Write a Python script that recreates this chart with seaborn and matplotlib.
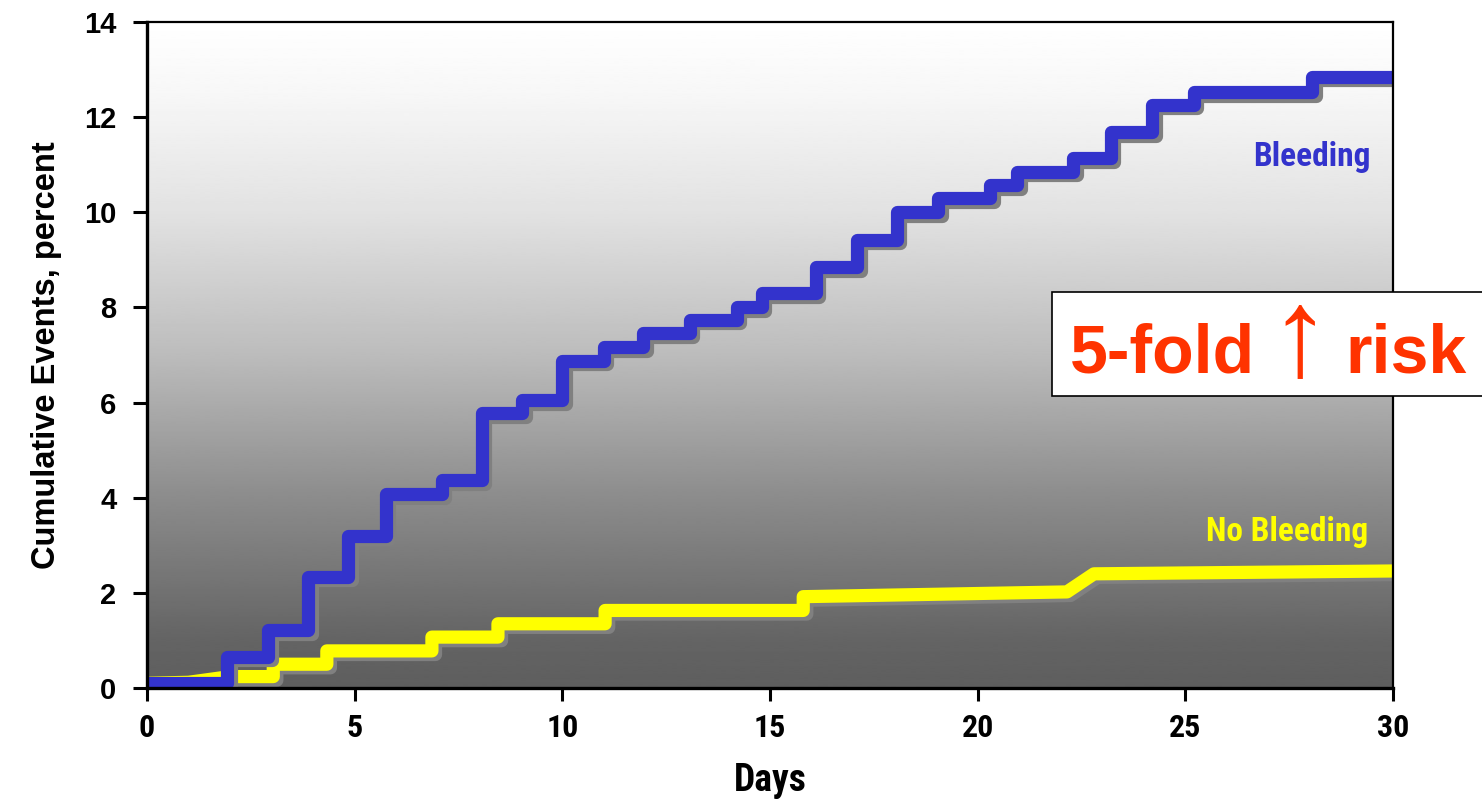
import numpy as np
import pandas as pd
import matplotlib
matplotlib.use("Agg")
import matplotlib.pyplot as plt
import matplotlib.patheffects as pe
from matplotlib.patches import Rectangle
from matplotlib import font_manager as fm
import seaborn as sns

# ---------------- data ----------------
bleed_days = [0, 1.93, 2.92, 3.88, 4.84, 5.75, 7.1, 8.06, 9.04, 10.0, 11.0, 11.95,
              13.07, 14.2, 14.8, 16.1, 17.1, 18.05, 19.05, 20.3, 20.95, 22.3, 23.2,
              24.2, 25.2, 28.05, 30]
bleed_pct = [0.1, 0.66, 1.22, 2.34, 3.2, 4.07, 4.37, 5.78, 6.05, 6.88, 7.17, 7.46,
             7.74, 8.01, 8.3, 8.85, 9.42, 10.0, 10.3, 10.57, 10.85, 11.14, 11.69,
             12.26, 12.53, 12.85, 12.85]

# No-bleeding curve vertices (steps with slight slopes)
nobleed_days = [0, 1.0, 2.0, 3.04, 3.04, 4.33, 4.33, 6.86, 6.86, 8.45, 8.45, 11.03,
                11.03, 15.8, 15.8, 22.15, 22.8, 30]
nobleed_pct = [0.1, 0.12, 0.24, 0.24, 0.5, 0.5, 0.78, 0.78, 1.07, 1.07, 1.35, 1.35,
               1.63, 1.63, 1.92, 2.02, 2.40, 2.46]

x_ticks = [0, 5, 10, 15, 20, 25, 30]
y_ticks = [0, 2, 4, 6, 8, 10, 12, 14]

# background gradient stops (value -> gray level)
grad_v = [0, 1, 4, 7, 10, 12.5, 14]
grad_g = [94, 100, 140, 188, 226, 247, 255]

# ---------------- fonts ----------------
def pick_narrow_bold():
    cands = []
    for f in fm.fontManager.ttflist:
        name = f.name.lower()
        fname = f.fname.lower()
        narrow = ("narrow" in name or "condensed" in name or "narrow" in fname
                  or "condensed" in fname or f.stretch in ("condensed", "semi-condensed",
                                                            "extra-condensed"))
        if not narrow:
            continue
        w = f.weight if isinstance(f.weight, int) else 400
        if w < 600 or "italic" in fname or "oblique" in fname or f.style != "normal":
            continue
        if "mono" in name or "serif" in name and "sans" not in name:
            continue
        score = 0
        if "liberation" in name or "arial" in name:
            score -= 10
        elif "roboto" in name:
            score -= 8
        elif "noto sans" in name:
            score -= 6
        elif "open sans" in name:
            score -= 5
        elif "dejavu" in name:
            score -= 3
        if "semicondensed" in fname or "semi" in f.stretch:
            score += 1
        cands.append((score, f.fname))
    if cands:
        cands.sort()
        return fm.FontProperties(fname=cands[0][1])
    return fm.FontProperties(family="Liberation Sans", weight="bold")

narrow_fp = pick_narrow_bold()

def nfp(size):
    p = narrow_fp.copy()
    p.set_size(size)
    return p

# ---------------- figure ----------------
sns.set_style("ticks")
plt.rcParams["font.family"] = ["Liberation Sans", "DejaVu Sans"]
for k in ["text.color", "axes.labelcolor", "xtick.color", "ytick.color",
          "axes.edgecolor"]:
    plt.rcParams[k] = "black"

fig = plt.figure(figsize=(14.82, 8.02), dpi=100)
ax = fig.add_axes([147 / 1482, 1 - 688 / 802, 1246 / 1482, 666 / 802])

yy = np.linspace(0, 14, 400)
gray = np.interp(yy, grad_v, grad_g)
ax.imshow(gray[:, None], extent=[0, 30, 0, 14], origin="lower", aspect="auto",
          cmap="gray", vmin=0, vmax=255, zorder=0, interpolation="bilinear")

shadow = [pe.SimpleLineShadow(offset=(2.6, -2.6), shadow_color="#808080", alpha=1.0),
          pe.Normal()]

df_b = pd.DataFrame({"day": bleed_days, "pct": bleed_pct})
df_n = pd.DataFrame({"day": nobleed_days, "pct": nobleed_pct})

sns.lineplot(data=df_n, x="day", y="pct", ax=ax, estimator=None, sort=False,
             color="#ffff00", linewidth=9.5, solid_joinstyle="round",
             solid_capstyle="butt", path_effects=shadow, zorder=3)
sns.lineplot(data=df_b, x="day", y="pct", ax=ax, estimator=None, sort=False,
             drawstyle="steps-post", color="#3333cc", linewidth=9.5,
             solid_joinstyle="round", solid_capstyle="butt", path_effects=shadow,
             zorder=4)

ax.set_xlim(0, 30)
ax.set_ylim(0, 14)
ax.set_xticks(x_ticks)
ax.set_yticks(y_ticks)
ax.set_xticklabels([str(t) for t in x_ticks], fontproperties=nfp(23))
ax.set_yticklabels([str(t) for t in y_ticks],
                   fontdict=dict(family="Liberation Sans", weight="bold", size=21))
ax.tick_params(axis="y", direction="out", length=10, width=2.2, pad=12, colors="black")
ax.tick_params(axis="x", direction="out", length=9, width=2.2, pad=9, colors="black")

for s in ["left", "bottom"]:
    ax.spines[s].set_linewidth(2.4)
for s in ["top", "right"]:
    ax.spines[s].set_linewidth(1.6)
for s in ax.spines.values():
    s.set_color("black")
    s.set_zorder(5)

ax.set_xlabel("Days", fontproperties=nfp(27), labelpad=14, color="black")
ax.set_ylabel("Cumulative Events, percent",
              fontdict=dict(family="Liberation Sans", weight="bold", size=23.5),
              labelpad=16, color="black")

ax.text(29.47, 11.16, "Bleeding", color="#3333cc", ha="right", va="center",
        fontproperties=nfp(24), zorder=6)
ax.text(29.4, 3.28, "No Bleeding", color="#ffff00", ha="right", va="center",
        fontproperties=nfp(24), zorder=6)

# annotation box
box = Rectangle((1052 / 1482, 1 - 396 / 802), 0.35, 104 / 802, transform=fig.transFigure,
                facecolor="white", edgecolor="black", linewidth=1.2, zorder=10,
                clip_on=False)
fig.add_artist(box)
red = "#ff3300"
base_y = 1 - 373 / 802
fig.text(1070 / 1482, base_y, "5-fold", color=red, weight="bold", size=49,
         family="Liberation Sans", ha="left", va="baseline", zorder=11)
fig.text(1300 / 1482, 1 - 374 / 802, "\u2191", color=red, weight="normal", size=90,
         family=["Liberation Sans", "DejaVu Sans"], ha="center", va="baseline", zorder=11)
fig.text(1345 / 1482, base_y, "risk", color=red, weight="bold", size=49,
         family="Liberation Sans", ha="left", va="baseline", zorder=11)

fig.savefig("out.png", dpi=100, facecolor="white")
